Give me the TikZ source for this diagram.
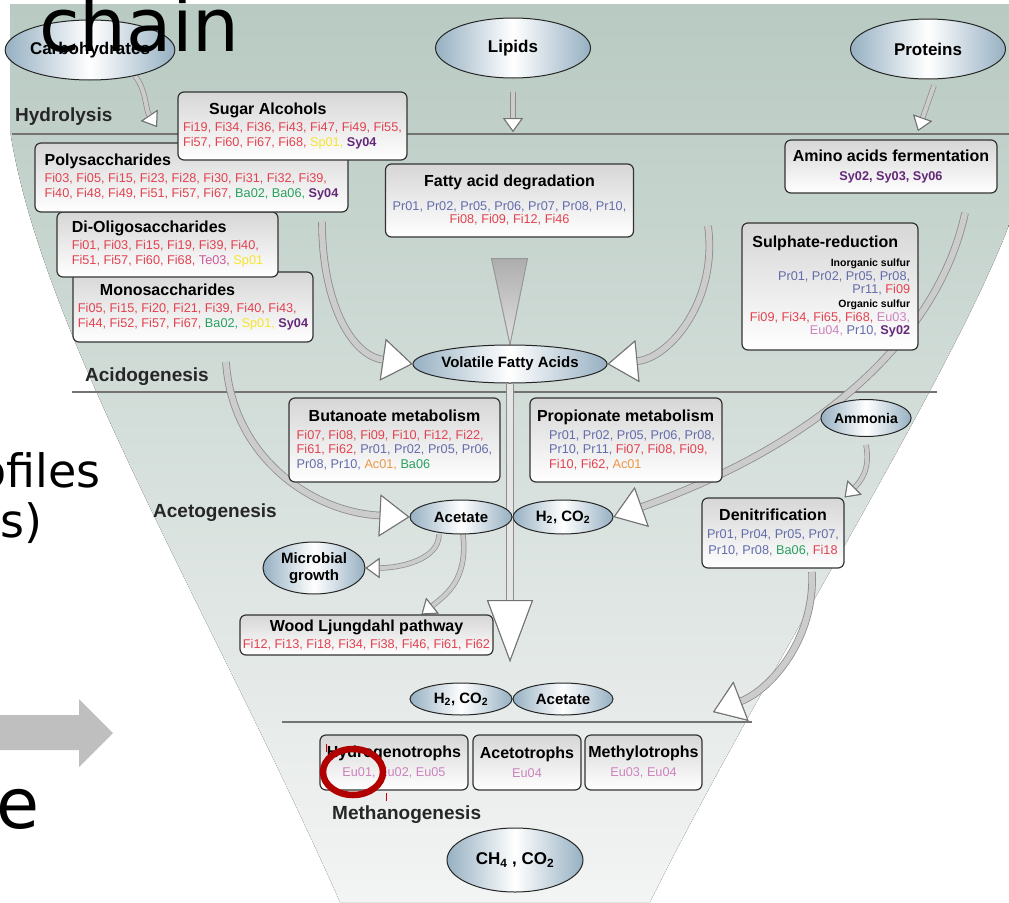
\documentclass[tikz,border=0pt]{standalone}
\usepackage{fontspec}
\setmainfont{Liberation Sans}
\newfontfamily\slidefont{DejaVu Sans}
\usepackage{tikz}
\usetikzlibrary{shapes.geometric, arrows.meta, calc, backgrounds}
\definecolor{cfi}{RGB}{226,66,80}
\definecolor{cpr}{RGB}{100,108,170}
\definecolor{cba}{RGB}{40,160,95}
\definecolor{csy}{RGB}{100,40,120}
\definecolor{csp}{RGB}{245,230,40}
\definecolor{cte}{RGB}{200,90,150}
\definecolor{cac}{RGB}{235,150,70}
\definecolor{ceu}{RGB}{205,130,190}
\definecolor{funtop}{RGB}{184,202,194}
\definecolor{funbot}{RGB}{243,244,244}
\definecolor{blobedge}{RGB}{150,176,194}
\definecolor{ringred}{RGB}{178,0,0}
\definecolor{slidegray}{RGB}{191,191,191}
\newcommand{\ttlfont}{\fontsize{16}{19}\selectfont\bfseries}
\newcommand{\spfont}{\fontsize{12.7}{15}\selectfont}
\newcommand{\subfont}{\fontsize{10.5}{13}\selectfont\bfseries}
\newcommand{\phasefont}{\fontsize{19}{22}\selectfont\bfseries}
\newcommand{\cFi}[1]{\textcolor{cfi}{#1}}
\newcommand{\cPr}[1]{\textcolor{cpr}{#1}}
\newcommand{\cBa}[1]{\textcolor{cba}{#1}}
\newcommand{\cSy}[1]{\textcolor{csy}{\bfseries #1}}
\newcommand{\cSp}[1]{\textcolor{csp}{#1}}
\newcommand{\cTe}[1]{\textcolor{cte}{#1}}
\newcommand{\cAc}[1]{\textcolor{cac}{#1}}
\newcommand{\cEu}[1]{\textcolor{ceu}{#1}}
\tikzset{
    box/.style={draw=black!80, line width=1.2pt, rounded corners=6pt,
        top color=black!16, bottom color=white, font=\spfont, inner sep=2pt},
    blob/.style={ellipse, draw=black!85, line width=1pt, left color=blobedge,
        right color=blobedge, middle color=white, inner sep=0pt},
    src/.style={blob, minimum width=155pt, minimum height=60pt,
        font=\fontsize{17}{20}\selectfont\bfseries},
    mid/.style={blob, minimum width=102pt, minimum height=34pt,
        font=\fontsize{15}{17}\selectfont\bfseries},
    phase/.style={anchor=west, inner sep=0pt, font=\phasefont, text=black!85},
    divider/.style={draw=black!55, line width=1.5pt},
    flow/.style={draw=black!20, line width=6pt,
        preaction={draw=black!45, line width=7.6pt},
        -{Triangle[length=30pt, width=42pt, color=black!55, fill=white, line width=1pt]}},
    smallflow/.style={draw=black!20, line width=4pt,
        preaction={draw=black!45, line width=5.4pt},
        -{Triangle[length=14pt, width=20pt, color=black!55, fill=white, line width=1pt]}},
    stem/.style={draw=black!10, line width=6pt,
        preaction={draw=black!45, line width=8pt},
        -{Triangle[length=62pt, width=46pt, color=black!55, fill=white, line width=1pt]}},
    wedge/.style={draw=black!40, line width=1pt, top color=black!32, bottom color=black!12},
    slidetext/.style={inner sep=0pt, text=black}
}

\begin{document}
\begin{tikzpicture}[x=1pt, y=-1pt]
	\useasboundingbox (0,0) rectangle (1009,902);
	\clip (0,0) rectangle (1009,902);
	\begin{scope}[on background layer]
	\fill[top color=funtop, bottom color=funbot] (10,4) -- (1009,4) -- (1009,225)
		.. controls (950,380) and (760,680) .. (650,902) -- (340,902)
		.. controls (215,620) and (40,330) .. (10,130) -- cycle;
	\draw[divider] (12,134) -- (1009,134);
	\draw[divider] (72,392) -- (937,392);
	\draw[divider] (282,722) -- (752,722);
	\end{scope}

	\node[phase] at (15,117) (hydro) {Hydrolysis};
	\node[phase] at (85,377) (acido) {Acidogenesis};
	\node[phase] at (153,513) (aceto) {Acetogenesis};
	\node[phase] at (332,815) (metha) {Methanogenesis};

	\node[src] at (90,50) (carb) {Carbohydrates};
	\node[src] at (513,48) (lipids) {Lipids};
	\node[src] at (928,49) (proteins) {Proteins};

	\node[box, minimum width=240pt, minimum height=70pt, align=left] at (193,307) (mono)
		{{\ttlfont\hspace*{22pt}Monosaccharides}\\[2pt]
		\cFi{Fi05, Fi15, Fi20, Fi21, Fi39, Fi40, Fi43,}\\
		\cFi{Fi44, Fi52, Fi57, Fi67,} \cBa{Ba02,} \cSp{Sp01,} \cSy{Sy04}};
	\node[box, minimum width=221pt, minimum height=65pt, align=left] at (167.5,244.5) (dioligo)
		{{\ttlfont Di-Oligosaccharides}\\[2pt]
		\cFi{Fi01, Fi03, Fi15, Fi19, Fi39, Fi40,}\\
		\cFi{Fi51, Fi57, Fi60, Fi68,} \cTe{Te03,} \cSp{Sp01}};
	\node[box, minimum width=313pt, minimum height=69pt, align=left] at (191.5,177.5) (poly)
		{{\ttlfont Polysaccharides}\\[2pt]
		\cFi{Fi03, Fi05, Fi15, Fi23, Fi28, Fi30, Fi31, Fi32, Fi39,}\\
		\cFi{Fi40, Fi48, Fi49, Fi51, Fi57, Fi67,} \cBa{Ba02, Ba06,} \cSy{Sy04}};
	\node[box, minimum width=229pt, minimum height=68pt, align=left] at (292.5,126) (sugar)
		{{\ttlfont\hspace*{26pt}Sugar Alcohols}\\[2pt]
		\cFi{Fi19, Fi34, Fi36, Fi43, Fi47, Fi49, Fi55,}\\
		\cFi{Fi57, Fi60, Fi67, Fi68,} \cSp{Sp01,} \cSy{Sy04}};
	\node[box, minimum width=248pt, minimum height=73pt, align=center,
		font=\fontsize{12.7}{13.5}\selectfont] at (509.5,200.5) (fatty)
		{{\ttlfont Fatty acid degradation}\\[10pt]
		\cPr{Pr01, Pr02, Pr05, Pr06, Pr07, Pr08, Pr10,}\\
		\cFi{Fi08, Fi09, Fi12, Fi46}};
	\node[box, minimum width=212pt, minimum height=53pt, align=center] at (891,166.5) (amino)
		{{\ttlfont Amino acids fermentation}\\[4pt]
		\cSy{Sy02, Sy03, Sy06}};
	\node[box, minimum width=176pt, minimum height=127pt, align=right,
		font=\fontsize{12.7}{13.6}\selectfont] at (830,286.5) (sulph)
		{{\ttlfont Sulphate-reduction\hspace*{12pt}}\\[6pt]
		{\subfont Inorganic sulfur}\\
		\cPr{Pr01, Pr02, Pr05, Pr08,}\\
		\cPr{Pr11,} \cFi{Fi09}\\
		{\subfont Organic sulfur}\\
		\cFi{Fi09, Fi34, Fi65, Fi68,} \cEu{Eu03,}\\
		\cEu{Eu04,} \cPr{Pr10,} \cSy{Sy02}};
	\node[mid, minimum width=172pt, minimum height=38pt] at (510,364) (vfa) {Volatile Fatty Acids};

	\node[box, minimum width=211pt, minimum height=84pt, align=left,
		font=\fontsize{12.7}{14.5}\selectfont] at (394.5,440) (butan)
		{{\ttlfont\hspace*{12pt}Butanoate metabolism}\\[3pt]
		\cFi{Fi07, Fi08, Fi09, Fi10, Fi12, Fi22,}\\
		\cFi{Fi61, Fi62,} \cPr{Pr01, Pr02, Pr05, Pr06,}\\
		\cPr{Pr08, Pr10,} \cAc{Ac01,} \cBa{Ba06}};
	\node[box, minimum width=192pt, minimum height=84pt, align=left,
		font=\fontsize{12.7}{14.5}\selectfont] at (626,440) (propi)
		{{\ttlfont Propionate metabolism}\\[3pt]
		\hspace*{12pt}\cPr{Pr01, Pr02, Pr05, Pr06, Pr08,}\\
		\hspace*{12pt}\cPr{Pr10, Pr11,} \cFi{Fi07, Fi08, Fi09,}\\
		\hspace*{12pt}\cFi{Fi10, Fi62,} \cAc{Ac01}};
	\node[mid, minimum width=88pt, minimum height=37pt,
		font=\fontsize{14}{16}\selectfont\bfseries] at (866,418) (ammonia) {Ammonia};
	\node[mid] at (461,517) (acetate) {Acetate};
	\node[mid, minimum width=100pt] at (563,517) (hcoa) {H\textsubscript{2}, CO\textsubscript{2}};
	\node[box, minimum width=142pt, minimum height=70pt, align=center,
		font=\fontsize{12.7}{16}\selectfont] at (773,533) (denit)
		{{\ttlfont Denitrification}\\[2pt]
		\cPr{Pr01, Pr04, Pr05, Pr07,}\\
		\cPr{Pr10, Pr08,} \cBa{Ba06,} \cFi{Fi18}};
	\node[mid, minimum height=52pt, align=center,
		font=\fontsize{15}{17}\selectfont\bfseries] at (314,568) (microbe) {Microbial\\growth};
	\node[box, minimum width=253pt, minimum height=40pt, align=center] at (366.5,635) (wood)
		{{\ttlfont Wood Ljungdahl pathway}\\[2pt]
		\cFi{Fi12, Fi13, Fi18, Fi34, Fi38, Fi46, Fi61, Fi62}};

	\node[mid, minimum height=32pt] at (461,699) (hcob) {H\textsubscript{2}, CO\textsubscript{2}};
	\node[mid, minimum width=100pt, minimum height=32pt] at (563,699) (acetateb) {Acetate};
	\node[box, minimum width=148pt, minimum height=55pt, align=center] at (394,762.5) (hydrog)
		{{\ttlfont Hydrogenotrophs}\\[4pt] \cEu{Eu01, Eu02, Eu05}};
	\node[box, minimum width=108pt, minimum height=55pt, align=center] at (527,762.5) (acetot)
		{{\ttlfont Acetotrophs}\\[4pt] \cEu{Eu04}};
	\node[box, minimum width=117pt, minimum height=55pt, align=center] at (643.5,762.5) (methyl)
		{{\ttlfont Methylotrophs}\\[4pt] \cEu{Eu03, Eu04}};
	\node[src, minimum width=136pt, minimum height=64pt] at (515,860) (ch4)
		{CH\textsubscript{4} , CO\textsubscript{2}};

	\coordinate (carbtip) at (157,127);
	\coordinate (liptip) at (513,132);
	\coordinate (prottip) at (918,131);
	\coordinate (polyout) at (322,222);
	\coordinate (aminoout) at (708,226);
	\coordinate (monoout) at (226,362);
	\coordinate (sulphout) at (965,213);
	\coordinate (vfatip) at (510,662);
	\coordinate (denitout) at (812,572);
	\coordinate (denittip) at (713,712);

	\begin{scope}[on background layer]
	\draw[smallflow] (carb.-30) .. controls +(12,15) and +(-12,-18) .. (carbtip);
	\draw[smallflow] ([yshift=-13pt]lipids.south) -- (liptip);
	\draw[smallflow] ([shift={(6pt,-6pt)}]proteins.south) -- (prottip);
	\draw[flow] (polyout) .. controls (322,300) and (350,355) .. (vfa.west);
	\draw[flow] (aminoout) .. controls (718,300) and (670,358) .. (vfa.east);
	\filldraw[wedge] ($(fatty.south)+(-18,21)$) -- ($(fatty.south)+(18,21)$) -- (vfa.north) -- cycle;
	\draw[flow] (monoout) .. controls (232,455) and (310,512) .. (acetate.west);
	\draw[flow] (sulphout) .. controls (940,330) and (830,440) .. (hcoa.east);
	\draw[smallflow] ([yshift=-8pt]ammonia.south) .. controls +(5,25) and +(15,-15) .. (denit.north east);
	\draw[smallflow] ([xshift=-22pt]acetate.south) .. controls +(0,25) and +(35,0) .. (microbe.east);
	\draw[smallflow] ([xshift=2pt]acetate.south) .. controls +(5,45) and +(25,-20) .. ([xshift=55pt]wood.north);
	\draw[stem] (vfa.south) -- (vfatip);
	\draw[flow] (denitout) .. controls (815,640) and (770,690) .. (denittip);
	\end{scope}

	\fill[slidegray] (0,715) -- (79,715) -- (79,699) -- (113,733) -- (79,767) -- (79,750) -- (0,750) -- cycle;
	\node[slidetext, anchor=base west, font=\slidefont\fontsize{74}{84}\selectfont] at (39,51) (chainlbl) {chain};
	\node[slidetext, anchor=base east, font=\slidefont\fontsize{46}{54}\selectfont] at (101,487) (proflbl) {profiles};
	\node[slidetext, anchor=base east, font=\slidefont\fontsize{46}{54}\selectfont] at (43,537) (grplbl) {ts)};
	\node[slidetext, anchor=base east, font=\slidefont\fontsize{70}{80}\selectfont] at (40,828) (elbl) {e};

	\draw[draw=ringred, line width=6.5pt] (353,772) ellipse [x radius=30, y radius=23];
	\draw[draw=red!80!black, line width=1pt] (326,744) -- (326,752);
	\draw[draw=red!80!black, line width=1pt] (386,793) -- (386,801);
\end{tikzpicture}
\end{document}
